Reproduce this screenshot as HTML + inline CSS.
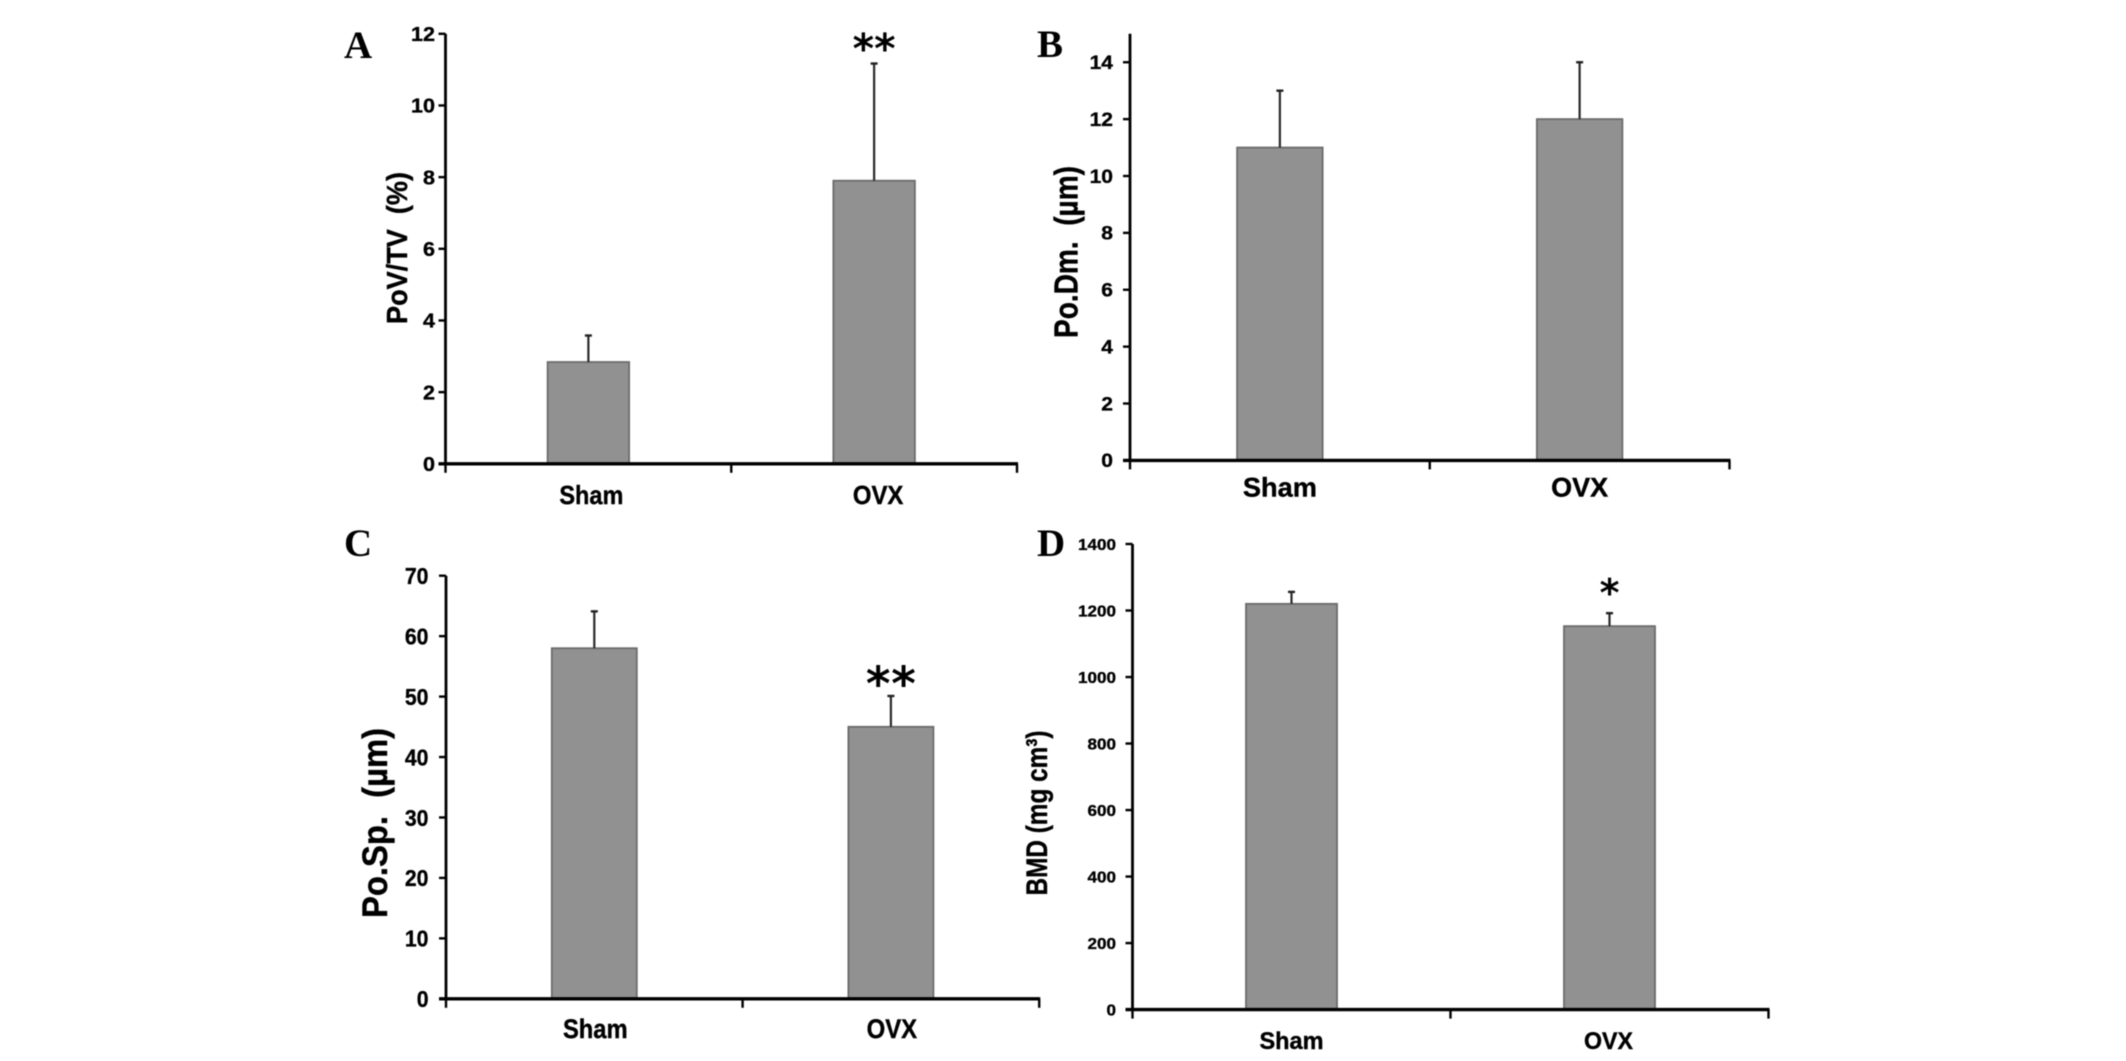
<!DOCTYPE html>
<html>
<head>
<meta charset="utf-8">
<title>Bone morphometry bar charts</title>
<style>
html,body{margin:0;padding:0;background:#fff;width:2126px;height:1061px;overflow:hidden}
svg{display:block;filter:blur(.4px)}
text{white-space:pre}
</style>
</head>
<body>
<svg id="figure" width="2126" height="1061" viewBox="0 0 2126 1061" xmlns="http://www.w3.org/2000/svg"></svg>
<script>
// ---- chart data ----
const categories = ["Sham", "OVX"];
const panelNames = ["A", "B", "C", "D"];

const valuesA = [2.84, 7.9];
const errorTopsA = [3.58, 11.17];
const ticksA = [0, 2, 4, 6, 8, 10, 12];
const axisMaxA = 12;
const starsA = ["", "**"];
const titleA = "PoV/TV  (%)";

const valuesB = [11, 12];
const errorTopsB = [13, 14];
const ticksB = [0, 2, 4, 6, 8, 10, 12, 14];
const axisMaxB = 15;
const starsB = ["", ""];
const titleB = "Po.Dm.  (\u00B5m)";

const valuesC = [58, 45];
const errorTopsC = [64.1, 50.1];
const ticksC = [0, 10, 20, 30, 40, 50, 60, 70];
const axisMaxC = 70;
const starsC = ["", "**"];
const titleC = "Po.Sp.  (\u00B5m)";

const valuesD = [1220, 1153];
const errorTopsD = [1256, 1192];
const ticksD = [0, 200, 400, 600, 800, 1000, 1200, 1400];
const axisMaxD = 1400;
const starsD = ["", "*"];
const titleD = "BMD (mg cm\u00B3)";

// ---- panel geometry (frame of each chart, not data) ----
const frames = {
  A: {left:445.5, right:1017, top:33.8, bottom:463.8, barW:81.5, tickFont:20, charW:12, xFont:26, xBase:504, xW:[64,50.5], xShift:[3,4], titleFont:29, titleX:407, titleCy:248, titleLen:152, labelX:344, labelY:58, tickRight:435, starFont:41, starH:[0,63], starLen:43},
  B: {left:1130, right:1729.5, top:33.8, bottom:460.4, barW:85.5, tickFont:19, charW:11.7, xFont:27, xBase:496.5, xW:[74,57], xShift:[0,0], titleFont:33, titleX:1077.5, titleCy:252, titleLen:172, labelX:1037, labelY:57, tickRight:1113, starFont:41, starH:[0,0], starLen:0},
  C: {left:446, right:1039.2, top:575.7, bottom:998.8, barW:85, tickFont:23, charW:11.8, xFont:27, xBase:1038, xW:[64.7,50.5], xShift:[1,1], titleFont:35, titleX:387, titleCy:823, titleLen:190, labelX:344, labelY:556, tickRight:428.5, starFont:47, starH:[0,700], starLen:50},
  D: {left:1132.5, right:1768.5, top:544, bottom:1009.6, barW:91, tickFont:16, charW:9.5, xFont:24, xBase:1049, xW:[64,49], xShift:[0,-1], titleFont:30, titleX:1047, titleCy:813, titleLen:165, labelX:1037, labelY:556, tickRight:1116, starFont:38, starH:[0,606], starLen:20}
};

// ---- rendering ----
const SVGNS = "http://www.w3.org/2000/svg";
const root = document.getElementById("figure");
function make(tag, attrs, parent, content) {
  const el = document.createElementNS(SVGNS, tag);
  for (const k in attrs) el.setAttribute(k, attrs[k]);
  if (content !== undefined) el.textContent = content;
  parent.appendChild(el);
  return el;
}
function drawPanel(id, values, errorTops, ticks, axisMax, stars, title) {
  const f = frames[id];
  const yScale = v => f.bottom - (v / axisMax) * (f.bottom - f.top);
  const step = (f.right - f.left) / categories.length;
  const xScale = i => f.left + step * (i + 0.5);
  const SANS = '"Liberation Sans", sans-serif';

  const g = make("g", {}, root);
  
  

  const letter = make("text", {x:f.labelX, y:f.labelY, "font-family":'"Liberation Serif", serif', "font-weight":"bold", "font-size":39, fill:"#000"}, g, id);
  
  

  values.forEach((v, i) => {
    const cx = xScale(i);
    const bar = make("rect", {x:cx - f.barW/2, y:yScale(v), width:f.barW, height:f.bottom - yScale(v), fill:"#919191", stroke:"#6b6b6b", "stroke-width":1.8}, g);
    
    

    const stem = make("line", {x1:cx, x2:cx, y1:yScale(v), y2:yScale(errorTops[i]), stroke:"#2a2a2a", "stroke-width":2.2}, g);
    
    

    const cap = make("line", {x1:cx - 3.5, x2:cx + 3.5, y1:yScale(errorTops[i]), y2:yScale(errorTops[i]), stroke:"#222", "stroke-width":2.4}, g);
    
    

    if (stars[i]) {
      const star = make("text", {x:cx, y:f.starH[i], "text-anchor":"middle", "font-family":'"DejaVu Sans", sans-serif', "font-weight":"bold", "font-size":f.starFont, textLength:f.starLen, lengthAdjust:"spacing", fill:"#000"}, g, stars[i]);
      
      
    }

    const label = make("text", {x:cx + f.xShift[i], y:f.xBase, "text-anchor":"middle", "font-family":SANS, "font-weight":"bold", "font-size":f.xFont, textLength:f.xW[i], lengthAdjust:"spacingAndGlyphs", fill:"#000", stroke:"#000", "stroke-width":0.4}, g, categories[i]);
    
    
  });

  const yAxis = make("line", {x1:f.left, x2:f.left, y1:f.top, y2:f.bottom + 1, stroke:"#000", "stroke-width":2.8}, g);
  
  

  const xAxis = make("line", {x1:f.left - 7, x2:f.right + 1, y1:f.bottom, y2:f.bottom, stroke:"#000", "stroke-width":3.4}, g);
  
  

  for (let i = 0; i <= categories.length; i++) {
    const xt = f.left + step * i;
    const tick = make("line", {x1:xt, x2:xt, y1:f.bottom, y2:f.bottom + 9, stroke:"#000", "stroke-width":2.4}, g);
    
    
  }

  ticks.forEach(t => {
    const ty = yScale(t);
    const tick = make("line", {x1:f.left - 7, x2:f.left, y1:ty, y2:ty, stroke:"#000", "stroke-width":2.4}, g);
    
    

    const s = String(t);
    const lab = make("text", {x:f.tickRight, y:ty + f.tickFont * 0.36, "text-anchor":"end", "font-family":SANS, "font-weight":"bold", "font-size":f.tickFont, textLength:s.length * f.charW, lengthAdjust:"spacingAndGlyphs", fill:"#000", stroke:"#000", "stroke-width":0.35}, g, s);
    
    
  });

  const yTitle = make("text", {x:f.titleX, y:f.titleCy, "text-anchor":"middle", transform:"rotate(-90 " + f.titleX + " " + f.titleCy + ")", "font-family":SANS, "font-weight":"bold", "font-size":f.titleFont, textLength:f.titleLen, lengthAdjust:"spacingAndGlyphs", fill:"#000", stroke:"#000", "stroke-width":0.4}, g, title);
  
  
}
drawPanel(panelNames[0], valuesA, errorTopsA, ticksA, axisMaxA, starsA, titleA);
drawPanel(panelNames[1], valuesB, errorTopsB, ticksB, axisMaxB, starsB, titleB);
drawPanel(panelNames[2], valuesC, errorTopsC, ticksC, axisMaxC, starsC, titleC);
drawPanel(panelNames[3], valuesD, errorTopsD, ticksD, axisMaxD, starsD, titleD);
</script>
</body>
</html>
